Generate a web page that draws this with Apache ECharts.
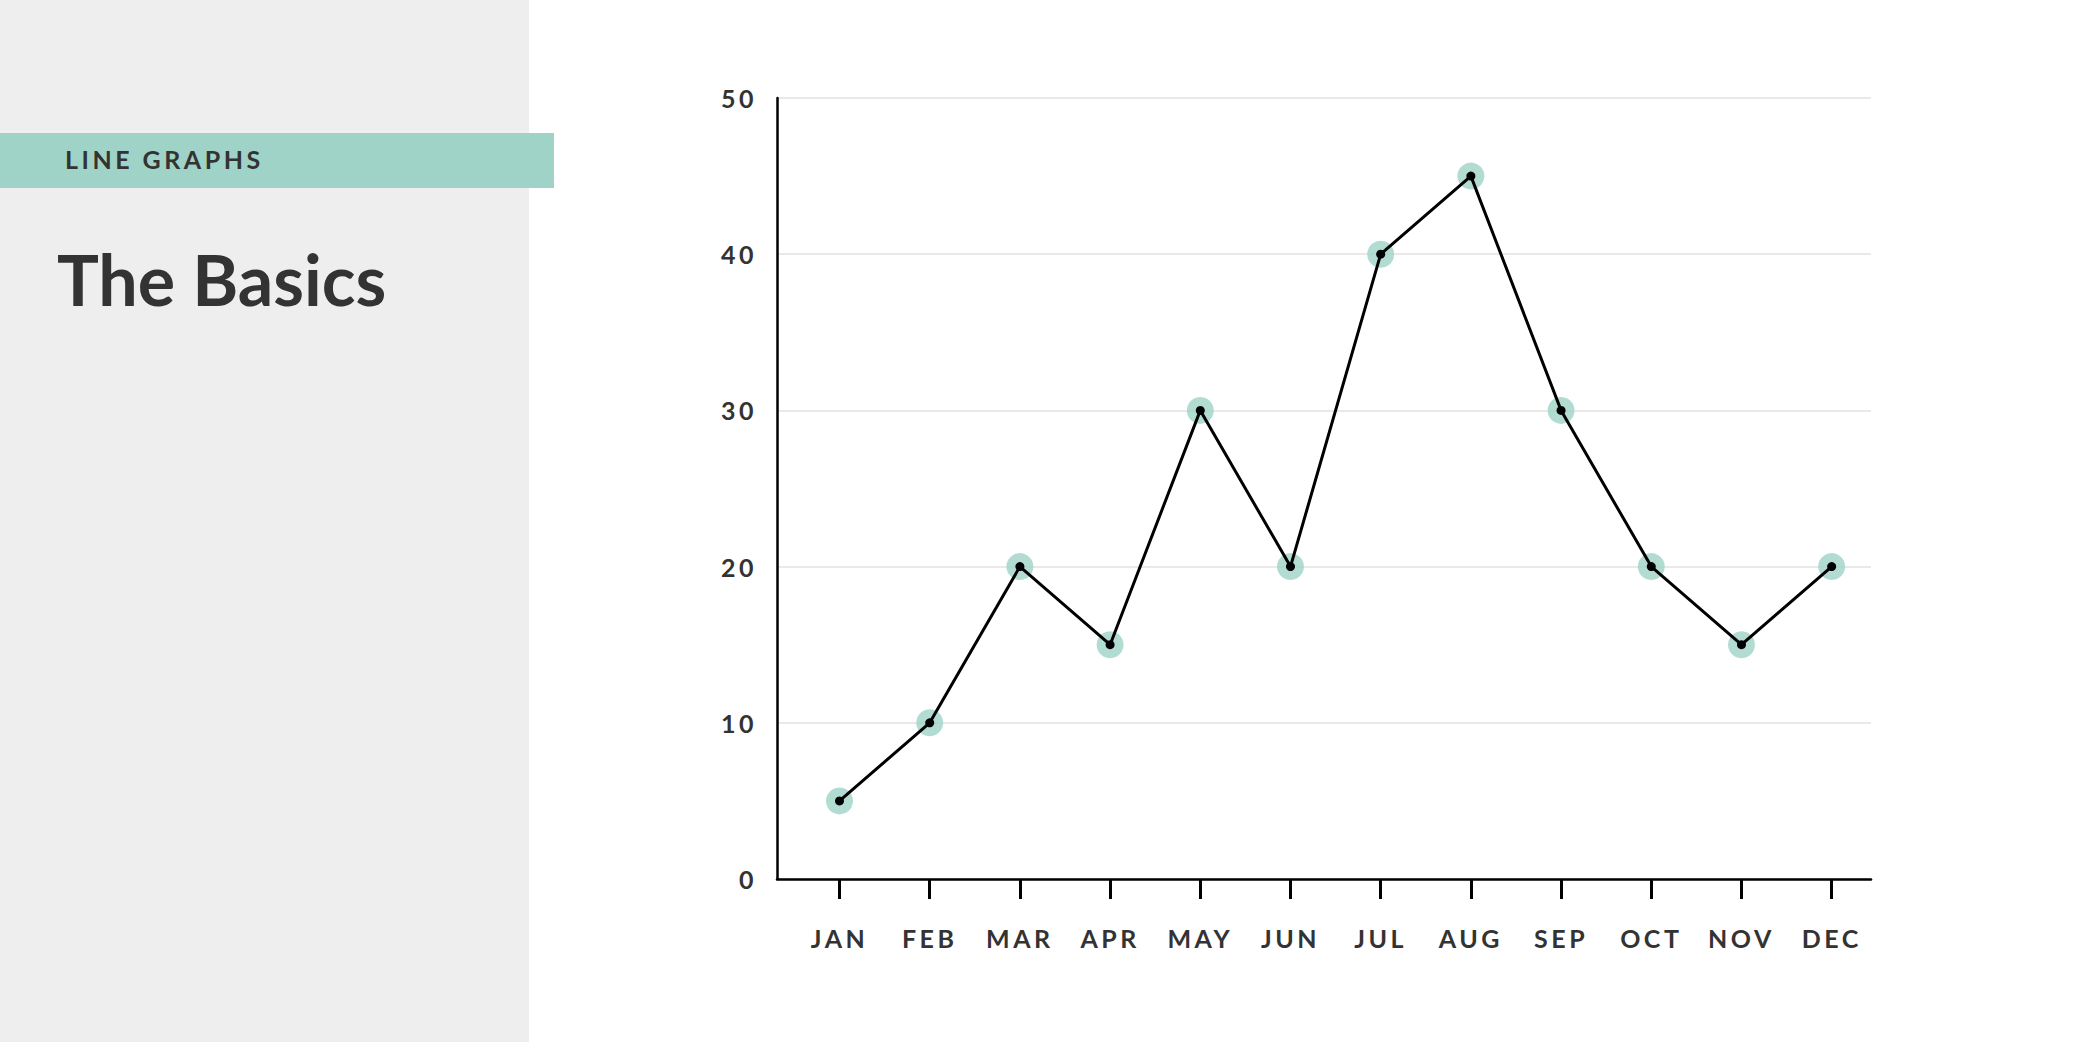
<!DOCTYPE html>
<html>
<head>
<meta charset="utf-8">
<style>
  html, body { margin: 0; padding: 0; background: #ffffff; }
  #main { width: 2084px; height: 1042px; }
  #main text { letter-spacing: 3.5px; }
</style>
<script src="https://cdn.jsdelivr.net/npm/echarts@6/dist/echarts.min.js"></script>
</head>
<body>
<div id="main"></div>
<script>
var months = ['JAN', 'FEB', 'MAR', 'APR', 'MAY', 'JUN', 'JUL', 'AUG', 'SEP', 'OCT', 'NOV', 'DEC'];
var values = [5, 10, 20, 15, 30, 20, 40, 45, 30, 20, 15, 20];
var yTicks = [0, 10, 20, 30, 40, 50];

var teal = '#9fd3c7';
var ink = '#333333';
var font = 'Lato';

var monthIdx = months.map(function (m, i) { return i; });
var points = values.map(function (v, i) { return [i, v]; });

var myChart = echarts.init(document.getElementById('main'), null, { renderer: 'svg' });
var option = {
    backgroundColor: '#ffffff',
    animation: false,
    graphic: [
        { type: 'rect', left: 0, top: 0, shape: { width: 529, height: 1042 }, style: { fill: '#eeeeee' }, z: 0 },
        { type: 'rect', left: 0, top: 133, shape: { width: 554, height: 55 }, style: { fill: teal }, z: 1 },
        {
            type: 'text', left: 65, top: 146, z: 2,
            style: { text: 'LINE GRAPHS', fill: ink, font: 'bold 25px ' + font }
        },
        {
            type: 'text', left: 57, top: 244, z: 2,
            style: { text: 'The Basics', fill: ink, font: 'bold 70px ' + font }
        }
    ],
    grid: {
        left: 777,
        right: 213,
        top: 98,
        bottom: 163
    },
    xAxis: {
        type: 'value',
        min: -0.693,
        max: 11.436,
        splitLine: { show: false },
        axisLine: { show: true, onZero: false, lineStyle: { color: '#000', width: 2.5 } },
        axisTick: {
            show: true,
            inside: false,
            length: 20,
            customValues: monthIdx,
            lineStyle: { color: '#000', width: 3 }
        },
        axisLabel: {
            customValues: monthIdx,
            margin: 46,
            color: ink,
            fontFamily: font,
            fontWeight: 'bold',
            fontSize: 25,
            formatter: function (v) { return months[v]; }
        }
    },
    yAxis: {
        type: 'value',
        min: yTicks[0],
        max: yTicks[yTicks.length - 1],
        interval: 10,
        axisLine: { show: true, onZero: false, lineStyle: { color: '#000', width: 2.5 } },
        axisTick: { show: false },
        splitLine: { lineStyle: { color: '#e2e2e2', width: 1.5 } },
        axisLabel: {
            margin: 20,
            color: ink,
            fontFamily: font,
            fontWeight: 'bold',
            fontSize: 25
        }
    },
    series: [
        {
            name: 'halo',
            type: 'scatter',
            data: points,
            symbol: 'circle',
            symbolSize: 27,
            itemStyle: { color: teal },
            z: 2
        },
        {
            name: 'value',
            type: 'line',
            data: points,
            symbol: 'circle',
            symbolSize: 9,
            showSymbol: true,
            itemStyle: { color: '#000', borderWidth: 0 },
            lineStyle: { color: '#000', width: 3 },
            z: 3
        }
    ]
};
myChart.setOption(option);

// title keeps normal spacing
var texts = document.querySelectorAll('#main text');
for (var i = 0; i < texts.length; i++) {
    if (texts[i].textContent === 'The Basics') {
        texts[i].style.letterSpacing = '0px';
    }
}
</script>
</body>
</html>
